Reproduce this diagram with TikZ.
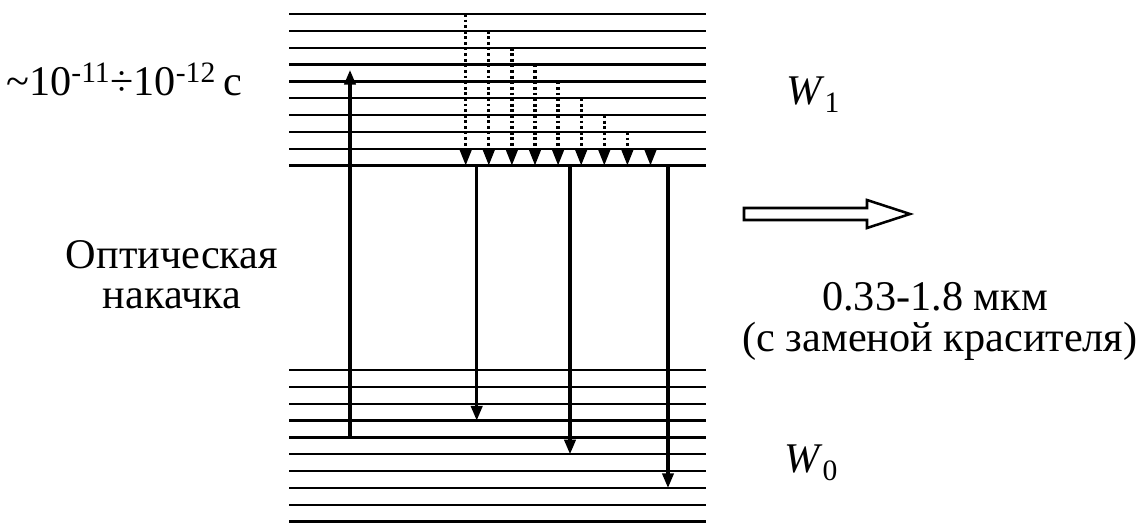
\documentclass[tikz,border=0pt]{standalone}
\usepackage{fontspec}
\setmainfont{Liberation Serif}
\newfontfamily\timesfont{Liberation Serif}
\usetikzlibrary{arrows.meta}
\tikzset{
    level/.style={line width=1.8pt},
    jump/.style={line width=2.3pt, -{Triangle[length=11pt, width=8.5pt]}},
    relax/.style={line width=2.5pt, dash pattern=on 2.1pt off 2.1pt,
        -{Triangle[length=12pt, width=8.5pt]}},
    lbl/.style={font=\timesfont\fontsize{31.7}{38}\selectfont, inner sep=0pt}
}
\begin{document}
\begin{tikzpicture}[x=0.75pt, y=-0.75pt]
    \useasboundingbox (0,0) rectangle (1140,522);
    % 1. Уровни W1 и W0
    \foreach \k in {0,...,9} {
        \draw[level] (289,{14+16.85*\k}) -- (706,{14+16.85*\k});
        \draw[level] (289,{370+16.85*\k}) -- (706,{370+16.85*\k});
    }

    % 2. Накачка
    \coordinate (pumpA) at (350,437.4);
    \coordinate (pumpB) at (350,70);
    \draw[jump] (pumpA) -- (pumpB);

    % 3. Безызлучательная релаксация
    \foreach \i in {1,...,9} {
        \coordinate (rs\i) at ({465.7+23.1*(\i-1)},{14+16.85*(\i-1)});
        \coordinate (re\i) at ({465.7+23.1*(\i-1)},165.65);
        \draw[relax] (rs\i) -- (re\i);
    }

    % 4. Излучение
    \foreach \x/\m [count=\j] in {476.7/3, 570/5, 668/7} {
        \coordinate (es\j) at (\x,165.65);
        \coordinate (ee\j) at (\x,{370+16.85*\m});
        \draw[jump] (es\j) -- (ee\j);
    }
    \draw[line width=1.9pt, line join=miter] (744,208) -- (867,208) -- (867,200)
        -- (910,214) -- (867,228) -- (867,220) -- (744,220) -- cycle;

    % 5. Подписи
    \node[lbl, anchor=base west] (time) at (6,95)
        {\textasciitilde10\textsuperscript{-11}÷10\textsuperscript{-12}\,с};
    \node[lbl, anchor=base west] (w1) at (786,104) {\textit{W}\textsubscript{1}};
    \node[lbl, anchor=base west] (w0) at (784,472) {\textit{W}\textsubscript{0}};
    \node[lbl, anchor=base] (pump1) at (172,268) {Оптическая};
    \node[lbl, anchor=base] (pump2) at (172,308) {накачка};
    \node[lbl, anchor=base] (lam1) at (935,310) {0.33-1.8 мкм};
    \node[lbl, anchor=base] (lam2) at (940,351) {(с заменой красителя)};
\end{tikzpicture}
\end{document}
